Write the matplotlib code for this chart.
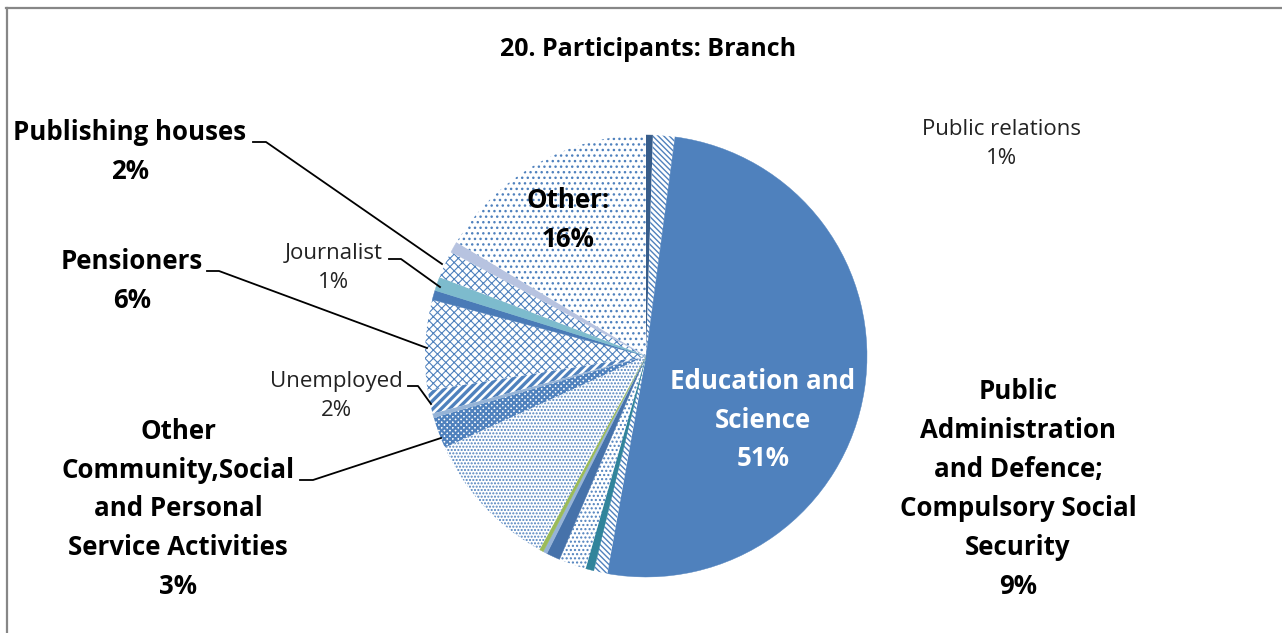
import matplotlib
matplotlib.use('Agg')
import matplotlib.pyplot as plt
from matplotlib.lines import Line2D

W, H = 1282, 633

# ---- data (clockwise from 12 o'clock) ----
values = [0.5, 1.6, 50.7, 1.0, 0.6, 2.0, 1.0, 0.3, 0.3, 0.4,
          9.8, 2.3, 0.3, 1.7, 6.6, 0.7, 1.0, 2.0, 0.8, 16.4]
names = ["Public relations", "", "Education and Science", "", "", "", "", "", "", "",
         "Public Administration and Defence; Compulsory Social Security",
         "Other Community,Social and Personal Service Activities", "",
         "Unemployed", "Pensioners", "", "Journalist", "Publishing houses", "", "Other:"]
pct_labels = ["1%", "", "51%", "", "", "", "", "", "", "",
              "9%", "3%", "", "2%", "6%", "", "1%", "2%", "", "16%"]
title = "20. Participants: Branch"

# ---- styles ----
BLUE = "#4F81BD"
fills = ["#385D8A", None, "#4F81BD", None, "#31849B", None, "#4672AA", "#95B3D7",
         "#9BBB59", None, None, None, "#95B3D7", None, None, "#4A7BB7",
         "#7DBBCD", None, "#B7C3E0", None]
hatches = [None, "\\\\\\\\\\\\", None, "\\\\\\\\\\\\", None, "....", None, None, None, ".....",
           ".....", "xxxxxx", None, "////", "xxxx", None, None, "xxxx", None, "..."]
hatch_lw = [0, 1.0, 0, 1.0, 0, 1.0, 0, 0, 0, 1.0,
            1.0, 1.6, 0, 2.4, 0.8, 0, 0, 0.8, 0, 1.0]

fig = plt.figure(figsize=(W / 100, H / 100), dpi=100)
fig.patch.set_facecolor("white")

cx, cy, r = 646, 356, 221
ax = fig.add_axes([(cx - r) / W, (H - cy - r) / H, 2 * r / W, 2 * r / H])
wedges, _ = ax.pie(values, startangle=90, counterclock=False, radius=1.0)
for w, fc, ht, hl in zip(wedges, fills, hatches, hatch_lw):
    if ht is None:
        w.set_facecolor(fc)
        w.set_edgecolor(fc)
        w.set_linewidth(0.3)
    else:
        w.set_facecolor("white")
        w.set_edgecolor(BLUE)
        w.set_linewidth(0)
        w.set_hatch(ht)
        if hasattr(w, "set_hatch_linewidth"):
            w.set_hatch_linewidth(hl)
ax.set_xlim(-1, 1)
ax.set_ylim(-1, 1)
ax.set_aspect("equal")
ax.axis("off")

FONT = "Open Sans"


def ftxt(x, y, s, size, weight="bold", color="black", ls=1.57):
    fig.text(x / W, 1 - y / H, s, ha="center", va="center", fontsize=size,
             fontweight=weight, color=color, family=FONT, linespacing=ls,
             multialignment="center")


def lab(i, wrap=None):
    n = wrap if wrap is not None else names[i]
    return n + "\n" + pct_labels[i]


BIG = 18.6
SMALL = 16
ftxt(648, 50, title, 18)
ftxt(130, 152, lab(17), BIG)
ftxt(132, 281, lab(14), BIG)
ftxt(334, 268, lab(16), SMALL, weight="normal", color="#222222", ls=1.45)
ftxt(336, 396, lab(13), SMALL, weight="normal", color="#222222", ls=1.45)
ftxt(178, 509, lab(11, "Other\nCommunity,Social\nand Personal\nService Activities"), BIG)
ftxt(1002, 144, lab(0), SMALL, weight="normal", color="#222222", ls=1.45)
ftxt(1018, 489, lab(10, "Public\nAdministration\nand Defence;\nCompulsory Social\nSecurity"), BIG)
ftxt(568, 220, lab(19, "Other:"), BIG)
ftxt(763, 420, lab(2, "Education and\nScience"), BIG, color="white")

# leader lines (pixel coords)
leaders = [
    [(253, 142), (266, 142), (442, 264)],
    [(389, 259), (401, 259), (440, 287)],
    [(207, 271), (219, 271), (427, 348)],
    [(408, 386), (418, 386), (431, 404)],
    [(300, 480), (313, 480), (441, 438)],
]
for pts in leaders:
    xs = [p[0] / W for p in pts]
    ys = [1 - p[1] / H for p in pts]
    fig.add_artist(Line2D(xs, ys, transform=fig.transFigure, color="black", lw=1.3))

# chart frame (top and left visible)
fig.add_artist(Line2D([6 / W, 1], [1 - 7.5 / H, 1 - 7.5 / H], transform=fig.transFigure,
                      color="#878787", lw=1.6))
fig.add_artist(Line2D([6.5 / W, 6.5 / W], [0, 1 - 7.5 / H], transform=fig.transFigure,
                      color="#878787", lw=1.6))

fig.savefig("out.png", dpi=100, facecolor="white")
